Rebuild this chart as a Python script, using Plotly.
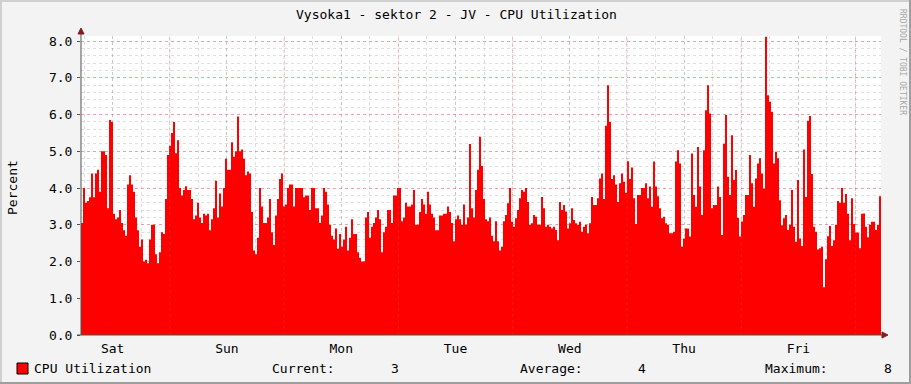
import plotly.graph_objects as go

# ---------------- data ----------------
TITLE = "Vysoka1 - sektor 2 - JV - CPU Utilization"
Y_LABEL = "Percent"
SERIES_NAME = "CPU Utilization"
DAY_LABELS = ["Sat", "Sun", "Mon", "Tue", "Wed", "Thu", "Fri"]
START_HOUR = 5.35      # hours after Saturday 00:00 where the graph starts
STEP_HOURS = 0.42      # sample interval (25.2 min)
Y_MAX = 8.14
CURRENT, AVERAGE, MAXIMUM = "3", "4", "8"

cpu_util = [
    3.05, 4.0, 3.6, 3.65, 3.75, 4.4, 3.75, 4.4, 4.5, 3.9,
    5.0, 5.0, 4.9, 3.45, 5.85, 5.8, 3.3, 3.15, 3.2, 3.4,
    3.05, 2.85, 2.7, 4.1, 4.35, 4.1, 3.9, 3.2, 2.85, 2.4,
    2.6, 2.0, 2.05, 1.95, 2.6, 3.0, 3.0, 2.2, 1.95, 2.25,
    2.8, 2.75, 3.7, 4.9, 5.15, 5.5, 5.8, 4.95, 5.3, 4.0,
    3.8, 3.95, 4.05, 3.95,
    3.95, 3.7, 3.15, 3.25, 3.6, 3.2, 3.05, 3.3, 3.25, 3.3,
    2.85, 3.15, 3.45, 4.2, 3.2, 3.85, 3.5, 4.0, 4.8, 4.5,
    4.5, 5.25, 4.85, 5.0, 5.95, 5.0, 5.05, 4.8, 4.35, 4.45,
    4.4, 3.35, 2.3, 2.2, 2.65, 4.0, 3.5, 3.05, 3.05, 3.2,
    3.7, 2.8, 2.45, 3.25, 3.7, 4.25, 4.4, 3.5, 3.55, 4.0,
    4.1, 4.1, 3.5,
    4.0, 4.0, 4.0, 4.0, 3.75, 3.8, 3.8, 3.4, 4.0, 4.0,
    3.45, 3.45, 3.05, 3.25, 4.0, 3.9, 3.55, 3.0, 2.7, 2.6,
    2.9, 2.35, 2.75, 2.4, 2.6, 2.95, 2.3, 2.65, 3.15, 2.75,
    2.75, 2.25, 2.1, 2.0, 2.0, 3.2, 3.35, 2.65, 2.95, 3.05,
    3.2, 3.4, 3.15, 2.25, 2.8, 2.95, 3.4, 3.4, 3.05, 3.8,
    3.8, 4.0,
    4.0, 3.1, 3.2, 3.6, 3.5, 3.5, 3.55, 3.95, 3.0, 3.0,
    3.35, 3.7, 3.55, 3.3, 3.9, 3.55, 3.3, 3.2, 2.85, 2.85,
    3.25, 3.25, 3.3, 3.3, 3.5, 3.35, 3.05, 2.55, 3.15, 3.25,
    3.15, 3.0, 3.55, 3.0, 3.2, 5.2, 3.45, 3.2, 3.95, 4.5,
    5.4, 4.6, 3.7, 3.15, 3.1, 3.2, 2.7, 2.55, 3.1, 2.55,
    2.3,
    2.4, 3.1, 3.27, 3.59, 4.0, 3.08, 2.95, 3.18, 3.4, 3.72,
    3.95, 3.9, 4.0, 3.62, 3.0, 3.04, 3.27, 3.22, 3.0, 3.0,
    3.76, 3.45, 2.95, 3.0, 2.95, 2.9, 2.95, 2.86, 2.58, 3.62,
    3.4, 3.54, 3.36, 2.9, 3.04, 3.45, 3.13, 3.04, 3.0, 3.08,
    2.81, 2.95, 3.0, 2.77, 3.04, 3.76, 3.54, 3.54, 3.72, 4.26,
    4.4,
    3.7, 5.7, 6.8, 5.8,
    4.25, 4.35, 4.1, 3.62, 4.13, 4.4, 4.17, 3.87, 4.73, 4.25,
    4.56, 3.72, 3.02, 3.81, 3.81, 4.0, 4.0, 4.13, 3.72, 4.04,
    3.49, 4.72, 4.04, 3.78, 3.45, 3.18, 3.22, 3.04, 3.0, 2.77,
    2.77, 2.81, 4.72, 5.03, 4.67, 2.4, 2.63, 2.9, 2.9, 2.68,
    4.94, 3.81, 3.49, 5.12, 4.04, 3.27, 5.03, 6.12, 6.8, 6.03,
    3.45, 3.54,
    3.54, 4.04, 3.76, 2.72, 5.21, 5.99, 4.31, 3.81, 5.44, 4.22,
    4.49, 3.19, 2.68, 3.09, 3.27, 3.81, 3.81, 4.9, 4.13, 3.49,
    4.26, 4.67, 4.81, 4.4, 3.99, 8.12, 6.53, 6.35, 6.08, 4.67,
    4.99, 4.81, 3.67, 2.99, 3.18, 3.27, 2.86, 3.0, 3.95, 2.95,
    2.54, 4.22, 2.63,
    2.42, 5.05, 3.76, 5.83, 5.96, 4.38, 2.95, 2.81, 2.33, 2.36,
    2.4, 1.3, 2.06, 2.69, 2.97, 2.42, 2.58, 3.0, 3.65, 3.6,
    4.0, 3.6, 3.84, 3.3, 2.58, 3.72, 3.02, 2.79, 2.79, 2.36,
    3.3, 3.31, 2.95, 2.66, 3.0, 3.08, 3.08, 2.86, 3.0, 3.78,
]

# ---------------- geometry helpers ----------------
W, H = 911, 384
PL, PR, PT, PB = 81, 881, 36, 335   # plot area in pixels


def px(xp):
    return (xp - PL) / (PR - PL)


def py(yp):
    return (PB - yp) / (PB - PT)


n = len(cpu_util)
xs = [START_HOUR + i * STEP_HOURS for i in range(n + 1)]
ys = cpu_util + [cpu_util[-1]]
x_end = xs[-1]

FONT = "DejaVu Sans Mono"
GRID = "rgba(140,140,140,0.28)"
MGRID = "rgba(225,70,70,0.35)"
ARROW = "#7F1F1F"
AXIS = "#505050"

fig = go.Figure()
fig.add_trace(go.Scatter(
    x=xs, y=ys, mode="lines",
    line=dict(width=0, shape="hv", color="#FF0000"),
    fill="tozeroy", fillcolor="#FF0000",
    hoverinfo="skip", showlegend=False,
))

noon = [12 + 24 * i for i in range(len(DAY_LABELS))]
midnights = [24 * (i + 1) for i in range(len(DAY_LABELS))]

shapes = []
for m in midnights:
    if START_HOUR < m < x_end:
        shapes.append(dict(type="line", xref="x", yref="paper", x0=m, x1=m, y0=0, y1=1,
                           line=dict(color=MGRID, width=1, dash="dot"), layer="above"))

# axes lines and arrows
shapes += [
    dict(type="line", xref="paper", yref="paper", x0=px(81), x1=px(81), y0=py(335), y1=py(33),
         line=dict(color=AXIS, width=1), layer="above"),
    dict(type="line", xref="paper", yref="paper", x0=px(77), x1=px(883), y0=py(335), y1=py(335),
         line=dict(color=AXIS, width=1), layer="above"),
    dict(type="path", xref="paper", yref="paper",
         path=f"M {px(78)} {py(34)} L {px(81)} {py(28)} L {px(84)} {py(34)} Z",
         fillcolor=ARROW, line=dict(color=ARROW, width=1), layer="above"),
    dict(type="path", xref="paper", yref="paper",
         path=f"M {px(882)} {py(332)} L {px(888)} {py(335)} L {px(882)} {py(338)} Z",
         fillcolor=ARROW, line=dict(color=ARROW, width=1), layer="above"),
    # legend swatch
    dict(type="rect", xref="paper", yref="paper", x0=px(17), x1=px(28), y0=py(374), y1=py(363),
         fillcolor="#FF0000", line=dict(color="#000000", width=1), layer="above"),
    # 3D frame
    dict(type="line", xref="paper", yref="paper", x0=px(0), x1=px(W), y0=py(1), y1=py(1),
         line=dict(color="#CFCFCF", width=2)),
    dict(type="line", xref="paper", yref="paper", x0=px(1), x1=px(1), y0=py(0), y1=py(H),
         line=dict(color="#CFCFCF", width=2)),
    dict(type="line", xref="paper", yref="paper", x0=px(0), x1=px(W), y0=py(H - 1), y1=py(H - 1),
         line=dict(color="#9E9E9E", width=2)),
    dict(type="line", xref="paper", yref="paper", x0=px(W - 1), x1=px(W - 1), y0=py(0), y1=py(H),
         line=dict(color="#9E9E9E", width=2)),
]

ann = []


def text(x, y, s, size=13, xanchor="left", color="#000000", angle=0):
    ann.append(dict(x=px(x), y=py(y), xref="paper", yref="paper", text=s, showarrow=False,
                    xanchor=xanchor, yanchor="middle", textangle=angle,
                    font=dict(family=FONT, size=size, color=color)))


text(456, 14, TITLE, xanchor="center")
text(12, 188, Y_LABEL, xanchor="center", angle=-90)
text(903, 62, "RRDTOOL / TOBI OETIKER", size=8, xanchor="center", color="#A8A8A8", angle=90)
text(32, 368.5, SERIES_NAME)
text(270, 368.5, "Current:")
text(401, 368.5, CURRENT, xanchor="right")
text(518, 368.5, "Average:")
text(648, 368.5, AVERAGE, xanchor="right")
text(763, 368.5, "Maximum:")
text(894, 368.5, MAXIMUM, xanchor="right")

fig.update_layout(
    width=W, height=H,
    margin=dict(l=PL, r=W - PR, t=PT, b=H - PB, pad=0),
    paper_bgcolor="#F3F3F3", plot_bgcolor="#FFFFFF",
    showlegend=False,
    shapes=shapes, annotations=ann,
    xaxis=dict(
        range=[START_HOUR, x_end], tickmode="array", tickvals=noon, ticktext=DAY_LABELS,
        showgrid=True, gridcolor=GRID, griddash="dot", gridwidth=1,
        minor=dict(dtick=6, tick0=0, showgrid=True, gridcolor=GRID, griddash="dot", gridwidth=1),
        ticks="", showline=False, zeroline=False, layer="above traces",
        tickfont=dict(family=FONT, size=13, color="#000000"), ticklabelstandoff=4,
        fixedrange=True,
    ),
    yaxis=dict(
        range=[0, Y_MAX], tickmode="array", tickvals=[0, 1, 2, 3, 4, 5, 6, 7, 8],
        tickformat=".1f",
        showgrid=True, gridcolor=MGRID, griddash="dot", gridwidth=1,
        minor=dict(dtick=0.2, tick0=0, showgrid=True, gridcolor=GRID, griddash="dot", gridwidth=1),
        ticks="outside", ticklen=3, tickcolor=AXIS, showline=False, zeroline=False,
        layer="above traces",
        tickfont=dict(family=FONT, size=13, color="#000000"), ticklabelstandoff=2,
        fixedrange=True,
    ),
)

fig.write_html("out.html", config={"displayModeBar": False},
               post_script="document.body.style.margin='0';document.body.style.overflow='hidden';")
